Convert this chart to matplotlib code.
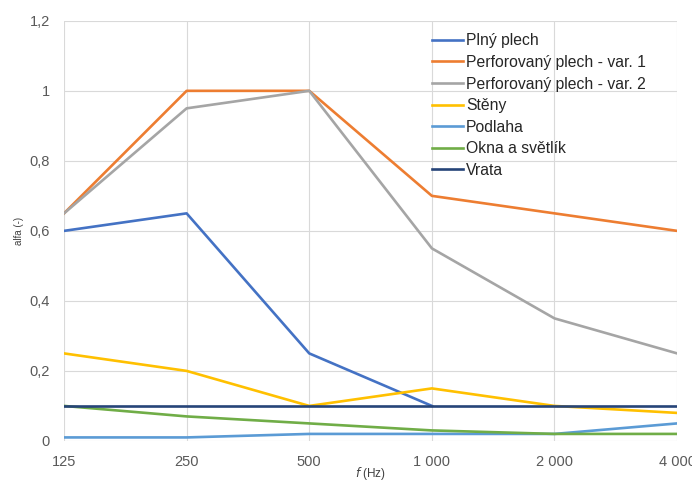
# Činitel zvukové pohltivosti alfa podle frekvence
import numpy as np
import matplotlib.pyplot as plt

plt.rcParams['font.family'] = ['Liberation Sans', 'DejaVu Sans']
plt.rcParams['font.size'] = 9

freqs = ['125', '250', '500', '1 000', '2 000', '4 000']

plny_plech = [0.60, 0.65, 0.25, 0.10]
perf_var1 = [0.65, 1.00, 1.00, 0.70, 0.65, 0.60]
perf_var2 = [0.65, 0.95, 1.00, 0.55, 0.35, 0.25]
steny = [0.25, 0.20, 0.10, 0.15, 0.10, 0.08]
podlaha = [0.01, 0.01, 0.02, 0.02, 0.02, 0.05]
okna = [0.10, 0.07, 0.05, 0.03, 0.02, 0.02]
vrata = [0.10, 0.10, 0.10, 0.10, 0.10, 0.10]

series = [
    ('Plný plech', plny_plech, '#4472c4'),
    ('Perforovaný plech - var. 1', perf_var1, '#ed7d31'),
    ('Perforovaný plech - var. 2', perf_var2, '#a5a5a5'),
    ('Stěny', steny, '#ffc000'),
    ('Podlaha', podlaha, '#5b9bd5'),
    ('Okna a světlík', okna, '#70ad47'),
    ('Vrata', vrata, '#264478'),
]

fig = plt.figure(figsize=(6.92, 4.84), dpi=100)
ax = fig.add_axes([0.0925, 0.089, 0.886, 0.868])

x = np.arange(len(freqs))
for name, vals, col in series:
    ax.plot(x[:len(vals)], vals, color=col, linewidth=1.9, label=name)

ax.set_xlim(0, len(freqs) - 1)
ax.set_ylim(0, 1.2)
ax.set_xticks(x)
ax.set_xticklabels(freqs)
yt = np.arange(0, 1.21, 0.2)
ax.set_yticks(yt)
ax.set_yticklabels(['0', '0,2', '0,4', '0,6', '0,8', '1', '1,2'])

ax.grid(True, color='#d9d9d9', linewidth=0.8)
ax.set_axisbelow(True)
for s in ax.spines.values():
    s.set_visible(False)
ax.tick_params(length=0, colors='#595959', labelsize=10.5, pad=10)

ax.set_xlabel('$\\it{f}$ (Hz)', fontsize=8.5, color='#404040', labelpad=-3)
ax.set_ylabel('alfa (-)', fontsize=7, color='#404040', labelpad=4)

leg = ax.legend(loc='upper left', bbox_to_anchor=(0.59, 0.985), frameon=False,
                fontsize=11.3, handlelength=2.0, handletextpad=0.15,
                labelspacing=0.42, borderaxespad=0.0)
for t in leg.get_texts():
    t.set_color('#262626')

fig.savefig('out.png', dpi=100)
